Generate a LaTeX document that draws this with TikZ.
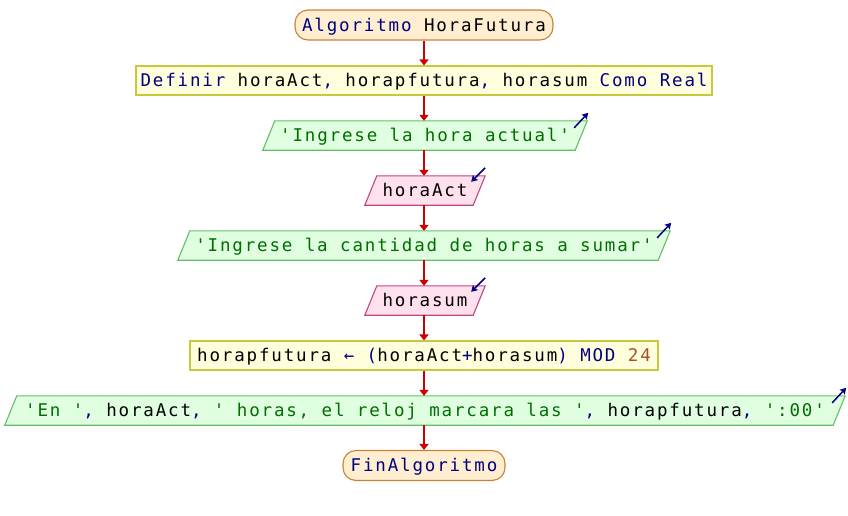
\documentclass[tikz,border=0pt]{standalone}
\usepackage{fontspec}
\newfontfamily\codefont[LetterSpace=10.5]{DejaVu Sans Mono}
\usetikzlibrary{arrows.meta,calc,backgrounds}

% syntax colours
\definecolor{kwcol}{RGB}{0,0,128}
\definecolor{strcol}{RGB}{0,110,0}
\definecolor{numcol}{RGB}{170,80,40}
% shape colours
\definecolor{flowcol}{RGB}{204,0,0}
\definecolor{termfill}{RGB}{255,238,208}
\definecolor{termedge}{RGB}{200,130,50}
\definecolor{procfill}{RGB}{255,255,221}
\definecolor{procedge}{RGB}{200,200,60}
\definecolor{outfill}{RGB}{224,255,224}
\definecolor{outedge}{RGB}{100,190,100}
\definecolor{infill}{RGB}{255,225,238}
\definecolor{inedge}{RGB}{190,70,130}

\newcommand\kwd[1]{\textcolor{kwcol}{#1}}
\newcommand\strg[1]{\textcolor{strcol}{#1}}
\newcommand\numb[1]{\textcolor{numcol}{#1}}

% parallelogram drawn around a named node: #1 node, #2 fill, #3 edge
\newcommand\slantbox[3]{%
  \path[fill=#2,draw=#3,line width=1.1pt]
    ($(#1.south west)+(-6,0)$) -- ($(#1.north west)+(6,0)$) --
    ($(#1.north east)+(6,0)$) -- ($(#1.south east)+(-6,0)$) -- cycle;}

\tikzset{
  base/.style={font=\codefont\fontsize{17.5}{21}\selectfont, inner sep=0pt,
    anchor=center, minimum height=29pt, text height=16pt, text depth=4pt},
  term/.style={base, draw=termedge, fill=termfill, line width=1.1pt,
    rounded corners=13pt, minimum height=30pt},
  proc/.style={base, draw=procedge, fill=procfill, line width=1.1pt},
  iobox/.style={base},
  flowline/.style={draw=flowcol, line width=1.6pt,
    -{Triangle[width=9pt,length=6pt]}},
  writeicon/.style={draw=kwcol, line width=1.5pt,
    -{Stealth[width=7pt,length=6pt,inset=1pt]}},
}

\begin{document}
\begin{tikzpicture}[x=1pt,y=-1pt]
\path[use as bounding box] (0,0) rectangle (848,515);

\node[term, minimum width=258pt] (start) at (424,25) {\kwd{Algoritmo} HoraFutura};
\node[proc, minimum width=576pt] (def) at (424,80.5)
  {\kwd{Definir} horaAct\kwd{,} horapfutura\kwd{,} horasum \kwd{Como Real}};
\node[iobox, minimum width=312pt] (in1) at (425,135.5) {\strg{'Ingrese la hora actual'}};
\node[iobox, minimum width=108pt] (rd1) at (425,190.5) {horaAct};
\node[iobox, minimum width=480pt] (in2) at (424,245.5) {\strg{'Ingrese la cantidad de horas a sumar'}};
\node[iobox, minimum width=108pt] (rd2) at (425,300.5) {horasum};
\node[proc, minimum width=468pt] (asg) at (424,355.5)
  {horapfutura \kwd{←} \kwd{(}horaAct\kwd{+}horasum\kwd{)} \kwd{MOD} \numb{24}};
\node[iobox, minimum width=828pt] (out) at (425,410.5)
  {\strg{'En '}\kwd{,} horaAct\kwd{,} \strg{' horas, el reloj marcara las '}\kwd{,} horapfutura\kwd{,} \strg{':00'}};
\node[term, minimum width=162pt] (fin) at (424,465.5) {\kwd{FinAlgoritmo}};

\begin{scope}[on background layer]
  \slantbox{in1}{outfill}{outedge}
  \slantbox{rd1}{infill}{inedge}
  \slantbox{in2}{outfill}{outedge}
  \slantbox{rd2}{infill}{inedge}
  \slantbox{out}{outfill}{outedge}
\end{scope}

% flow connectors
\draw[flowline] (start.south) -- (def.north);
\draw[flowline] (def.south) -- (def.south |- in1.north);
\draw[flowline] (def.south |- in1.south) -- (def.south |- rd1.north);
\draw[flowline] (def.south |- rd1.south) -- (def.south |- in2.north);
\draw[flowline] (def.south |- in2.south) -- (def.south |- rd2.north);
\draw[flowline] (def.south |- rd2.south) -- (asg.north);
\draw[flowline] (asg.south) -- (asg.south |- out.north);
\draw[flowline] (asg.south |- out.south) -- (fin.north);

% output / input markers at the top right corners
\foreach \n in {in1,in2,out}{
  \coordinate (\n-c) at ($(\n.north east)+(6,0)$);
  \draw[writeicon] ($(\n-c)+(-13,7)$) -- ($(\n-c)+(1,-8)$);
}
\foreach \n in {rd1,rd2}{
  \coordinate (\n-c) at ($(\n.north east)+(6,0)$);
  \draw[writeicon] ($(\n-c)+(0,-8)$) -- ($(\n-c)+(-14,6)$);
}
\end{tikzpicture}
\end{document}
